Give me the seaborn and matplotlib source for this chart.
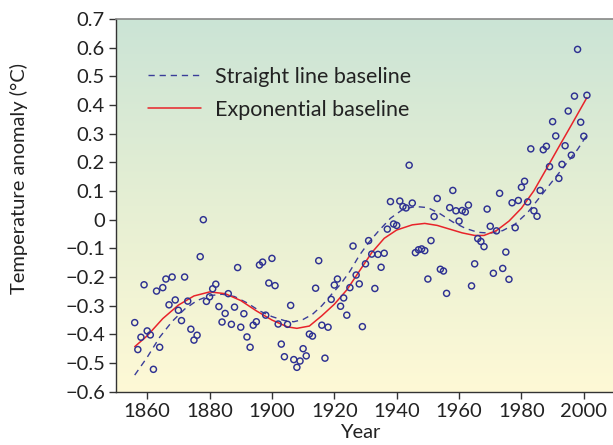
import numpy as np
import pandas as pd
import matplotlib
matplotlib.use("Agg")
import matplotlib.pyplot as plt
from matplotlib.colors import LinearSegmentedColormap
import seaborn as sns

# ---- data ----
years = list(range(1856, 2002))
anomaly = [
    -0.359, -0.453, -0.410, -0.227, -0.388, -0.402, -0.522, -0.249, -0.445, -0.237,  # 1856-1865
    -0.207, -0.297, -0.200, -0.280, -0.316, -0.352, -0.200, -0.284, -0.382, -0.420,  # 1866-1875
    -0.403, -0.129, 0.000, -0.285, -0.269, -0.241, -0.225, -0.303, -0.357, -0.327,   # 1876-1885
    -0.258, -0.365, -0.305, -0.167, -0.375, -0.328, -0.409, -0.445, -0.368, -0.356,  # 1886-1895
    -0.158, -0.148, -0.333, -0.221, -0.135, -0.230, -0.364, -0.434, -0.478, -0.365,  # 1896-1905
    -0.299, -0.488, -0.515, -0.493, -0.450, -0.475, -0.399, -0.406, -0.239, -0.143,  # 1906-1915
    -0.368, -0.483, -0.375, -0.278, -0.228, -0.207, -0.302, -0.273, -0.333, -0.237,  # 1916-1925
    -0.092, -0.193, -0.224, -0.373, -0.154, -0.073, -0.120, -0.240, -0.121, -0.166,  # 1926-1935
    -0.117, -0.033, 0.063, -0.015, -0.020, 0.065, 0.046, 0.041, 0.190, 0.058,        # 1936-1945
    -0.115, -0.105, -0.102, -0.108, -0.207, -0.073, 0.011, 0.074, -0.173, -0.179,    # 1946-1955
    -0.257, 0.042, 0.102, 0.031, -0.005, 0.032, 0.027, 0.051, -0.231, -0.154,        # 1956-1965
    -0.066, -0.076, -0.094, 0.037, -0.023, -0.187, -0.039, 0.092, -0.170, -0.113,    # 1966-1975
    -0.208, 0.059, -0.028, 0.067, 0.113, 0.134, 0.062, 0.247, 0.031, 0.012,          # 1976-1985
    0.102, 0.244, 0.256, 0.185, 0.342, 0.292, 0.144, 0.193, 0.258, 0.379,            # 1986-1995
    0.225, 0.431, 0.594, 0.340, 0.291, 0.434,                                        # 1996-2001
]

straight_years = [1856, 1860, 1864, 1868, 1872, 1876, 1880, 1884, 1888, 1892, 1896, 1900,
                  1904, 1907, 1910, 1913, 1916, 1919, 1922, 1925, 1928, 1931, 1934, 1938,
                  1942, 1946, 1950, 1954, 1958, 1962, 1966, 1970, 1974, 1978, 1982, 1986,
                  1990, 1994, 1998, 2001]
straight_vals = [-0.542, -0.480, -0.410, -0.355, -0.312, -0.282, -0.265, -0.260, -0.268, -0.290,
                 -0.318, -0.338, -0.352, -0.356, -0.348, -0.330, -0.300, -0.262, -0.225, -0.180,
                 -0.125, -0.080, -0.042, 0.005, 0.036, 0.046, 0.042, 0.020, -0.008, -0.030,
                 -0.044, -0.047, -0.038, -0.015, 0.025, 0.080, 0.135, 0.190, 0.245, 0.295]

expo_years = [1856, 1860, 1865, 1870, 1875, 1880, 1885, 1890, 1895, 1900, 1905, 1908, 1912,
              1916, 1920, 1924, 1928, 1932, 1936, 1940, 1945, 1949, 1953, 1957, 1961, 1965,
              1968, 1972, 1976, 1980, 1984, 1988, 1992, 1996, 2001]
expo_vals = [-0.443, -0.405, -0.345, -0.298, -0.266, -0.252, -0.258, -0.282, -0.318, -0.350,
             -0.374, -0.379, -0.371, -0.335, -0.295, -0.245, -0.180, -0.115, -0.065, -0.036,
             -0.018, -0.013, -0.020, -0.033, -0.046, -0.055, -0.055, -0.038, -0.005, 0.040,
             0.101, 0.177, 0.254, 0.330, 0.426]

y_ticks = [round(-0.6 + 0.1 * i, 1) for i in range(14)]
y_tick_labels = ["\u22120.6", "\u22120.5", "\u22120.4", "\u22120.3", "\u22120.2", "\u22120.1",
                 "0", "0.1", "0.2", "0.3", "0.4", "0.5", "0.6", "0.7"]
x_ticks = [1860, 1880, 1900, 1920, 1940, 1960, 1980, 2000]

df_pts = pd.DataFrame({"Year": years, "Anomaly": anomaly})
df_str = pd.DataFrame({"Year": straight_years, "Anomaly": straight_vals})
df_exp = pd.DataFrame({"Year": expo_years, "Anomaly": expo_vals})

sns.set_style("ticks")
plt.rcParams["font.family"] = ["Lato", "DejaVu Sans"]

W, H = 613, 445
fig = plt.figure(figsize=(W / 100, H / 100), dpi=100)
x0, x1 = 116, 615
y0, y1 = 19, 391.7
ax = fig.add_axes([x0 / W, 1 - y1 / H, (x1 - x0) / W, (y1 - y0) / H])

# background gradient
cmap = LinearSegmentedColormap.from_list("bg", ["#FEF9D6", "#E6EFD3", "#CBE4D6"])
grad = np.linspace(0, 1, 256).reshape(-1, 1)
ax.imshow(grad, extent=[1850, 2010, -0.6, 0.7], origin="lower", aspect="auto",
          cmap=cmap, zorder=0, interpolation="bicubic")

navy = "#2E3192"
sns.lineplot(data=df_str, x="Year", y="Anomaly", ax=ax, color="#3A3D99", lw=1.0,
             linestyle=(0, (4.5, 3.5)), label="Straight line baseline", zorder=3)
sns.lineplot(data=df_exp, x="Year", y="Anomaly", ax=ax, color="#E8232A", lw=1.1,
             label="Exponential baseline", zorder=3)
sns.scatterplot(data=df_pts, x="Year", y="Anomaly", ax=ax, marker="o", s=19,
                facecolor="none", edgecolor=navy, linewidth=1.05, zorder=4, legend=False)

ax.set_xlim(1850, 2010)
ax.set_ylim(-0.6, 0.7)
ax.set_xticks(x_ticks)
ax.set_yticks(y_ticks)
ax.set_yticklabels(y_tick_labels)
ax.tick_params(axis="both", labelsize=14.5, length=5, width=1, color="#333333",
               labelcolor="#222222", direction="out", pad=3)
ax.set_xlabel("Year", fontsize=14.5, color="#222222")
ax.set_ylabel("Temperature anomaly (\u00b0C)", fontsize=14.5, color="#222222")
ax.xaxis.set_label_coords((360 - x0) / (x1 - x0), -(424 - y1) / (y1 - y0))
ax.yaxis.set_label_coords(-(x0 - 28) / (x1 - x0), 1 - (178 - y0) / (y1 - y0))

for s in ["left", "bottom"]:
    ax.spines[s].set_color("#333333")
    ax.spines[s].set_linewidth(1.0)
ax.spines["top"].set_visible(True)
ax.spines["top"].set_color("#888888")
ax.spines["top"].set_linewidth(1.2)
ax.spines["right"].set_visible(False)

leg = ax.legend(loc="upper left", bbox_to_anchor=(0.064, 0.872), frameon=False,
                fontsize=15.5, handlelength=2.45, handletextpad=0.65, labelspacing=0.6,
                borderaxespad=0, borderpad=0)
for t in leg.get_texts():
    t.set_color("#222222")

fig.savefig("out.png", dpi=100)
